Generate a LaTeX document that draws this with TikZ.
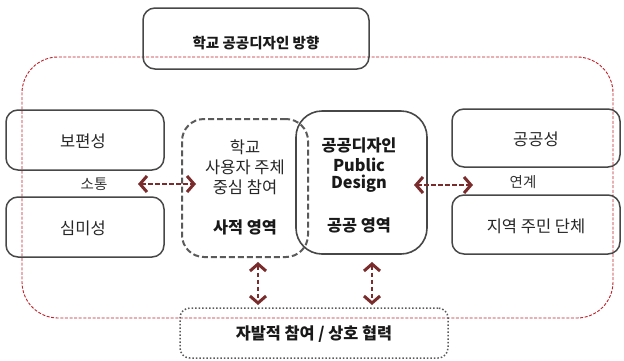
\documentclass[tikz,border=0pt]{standalone}
\usepackage{fontspec}
\setmainfont{Noto Sans CJK KR}
\usetikzlibrary{arrows.meta}
\definecolor{boxgray}{HTML}{474747}
\definecolor{dashgray}{HTML}{5A5A5A}
\definecolor{redline}{HTML}{C02028}
\definecolor{arrowred}{HTML}{7A2C2C}
\begin{document}
\begin{tikzpicture}[x=1pt,y=-1pt,
  box/.style={draw=boxgray, line width=1.5pt, rounded corners=12pt, rectangle, inner sep=0pt},
  dbox/.style={draw=dashgray, line width=2pt, dash pattern=on 6pt off 3pt, rounded corners=22pt, rectangle, inner sep=0pt},
  pbox/.style={draw=boxgray, line width=1.6pt, rounded corners=26pt, rectangle, inner sep=0pt},
  bbox/.style={draw=dashgray, line width=1.5pt, dotted, rounded corners=10pt, rectangle, inner sep=0pt},
  frame/.style={draw=redline, line width=0.9pt, dash pattern=on 3pt off 1.6pt, rounded corners=36pt, rectangle, inner sep=0pt},
  lbl/.style={font=\fontsize{16.5}{20}\selectfont, text=black!85, inner sep=0pt},
  blbl/.style={font=\fontsize{16.3}{20}\selectfont\bfseries, text=black!90, inner sep=0pt},
  slbl/.style={font=\fontsize{14.5}{17}\selectfont, text=black!80, inner sep=0pt},
  arr/.style={draw=arrowred, line width=2.2pt, dash pattern=on 4.5pt off 2.5pt,
    {Straight Barb[length=7pt,width=16pt,line width=3pt]}-{Straight Barb[length=7pt,width=16pt,line width=3pt]}}
]
\useasboundingbox (0,0) rectangle (624,360);

% red frame
\node[frame, minimum width=591pt, minimum height=261pt] (frame) at (317.5,187.5) {};

% top box
\node[box, minimum width=226pt, minimum height=61pt] (top) at (256,38.5) {};
\node[font=\fontsize{14.5}{18}\selectfont\bfseries, text=black!90, inner sep=0pt] (toptxt) at (256,43) {학교 공공디자인 방향};

% left boxes
\node[box, minimum width=158pt, minimum height=60pt] (bop) at (85,140) {};
\node[lbl] (boptxt) at (83,141) {보편성};
\node[box, minimum width=158pt, minimum height=60pt] (sim) at (85,227) {};
\node[lbl] (simtxt) at (83,228) {심미성};
\node[slbl] (sotong) at (94,184) {소통};

% right boxes
\node[box, minimum width=168pt, minimum height=58pt] (gong) at (536,138) {};
\node[lbl] (gongtxt) at (536,139) {공공성};
\node[box, minimum width=168pt, minimum height=59pt] (jiyeok) at (536,224.5) {};
\node[lbl] (jiyeoktxt) at (536,226) {지역 주민 단체};
\node[slbl] (yeongye) at (523,182) {연계};

% dashed box (private)
\node[dbox, minimum width=126pt, minimum height=138pt] (priv) at (245,188) {};
\node[lbl] (p1) at (245,147) {학교};
\node[lbl] (p2) at (245,167.5) {사용자 주체};
\node[lbl] (p3) at (245,187.5) {중심 참여};
\node[blbl] (p4) at (245,227) {사적 영역};

% public box
\node[pbox, minimum width=131pt, minimum height=143pt] (pub) at (361.5,182.5) {};
\node[blbl] (q1) at (359,145) {공공디자인};
\node[blbl] (q2) at (359,164.5) {Public};
\node[blbl] (q3) at (359,184) {Design};
\node[blbl] (q4) at (359,225) {공공 영역};

% bottom box
\node[bbox, minimum width=268pt, minimum height=50pt] (bot) at (314,333) {};
\node[blbl] (bottxt) at (314,334) {자발적 참여 / 상호 협력};

% arrows
\coordinate (a1) at (138,184);
\coordinate (a2) at (196,184);
\coordinate (b1) at (414,185);
\coordinate (b2) at (473,185);
\coordinate (c1) at (258,262);
\coordinate (c2) at (258,305);
\coordinate (d1) at (372,262);
\coordinate (d2) at (372,305);
\draw[arr] (a1) -- (a2);
\draw[arr] (b1) -- (b2);
\draw[arr] (c1) -- (c2);
\draw[arr] (d1) -- (d2);
\end{tikzpicture}
\end{document}
